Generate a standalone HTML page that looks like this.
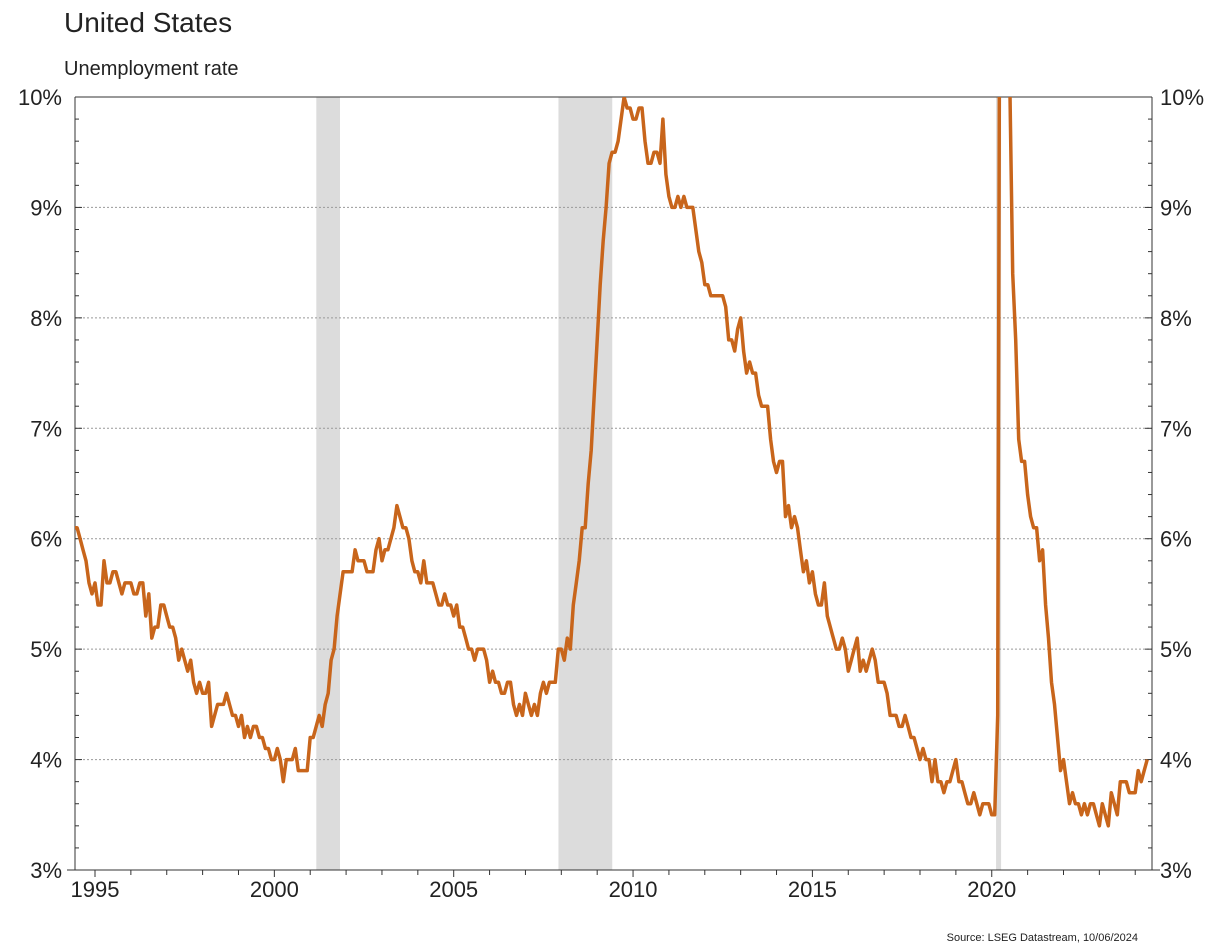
<!DOCTYPE html>
<html><head><meta charset="utf-8">
<style>
body{margin:0;background:#fff;font-family:"Liberation Sans",Arial,sans-serif;}
svg text{font-family:"Liberation Sans",Arial,sans-serif;}
</style></head>
<body>
<svg id="chart" width="1228" height="947" viewBox="0 0 1228 947" xmlns="http://www.w3.org/2000/svg">
<text x="64" y="32" font-size="28" fill="#222">United States</text>
<text x="64" y="75" font-size="20" fill="#222">Unemployment rate</text>
<g id="bands"></g>
<g id="grid"></g>
<g id="axes"></g>
<g id="series"></g>
<text x="1138" y="941" font-size="11" fill="#222" text-anchor="end">Source: LSEG Datastream, 10/06/2024</text>
</svg>
<script>
const startYear = 1994, startMonth = 5; // June 1994
const rates = [
6.1,6.1,6.0,5.9,5.8,5.6,5.5,
5.6,5.4,5.4,5.8,5.6,5.6,5.7,5.7,5.6,5.5,5.6,5.6,
5.6,5.5,5.5,5.6,5.6,5.3,5.5,5.1,5.2,5.2,5.4,5.4,
5.3,5.2,5.2,5.1,4.9,5.0,4.9,4.8,4.9,4.7,4.6,4.7,
4.6,4.6,4.7,4.3,4.4,4.5,4.5,4.5,4.6,4.5,4.4,4.4,
4.3,4.4,4.2,4.3,4.2,4.3,4.3,4.2,4.2,4.1,4.1,4.0,
4.0,4.1,4.0,3.8,4.0,4.0,4.0,4.1,3.9,3.9,3.9,3.9,
4.2,4.2,4.3,4.4,4.3,4.5,4.6,4.9,5.0,5.3,5.5,5.7,
5.7,5.7,5.7,5.9,5.8,5.8,5.8,5.7,5.7,5.7,5.9,6.0,
5.8,5.9,5.9,6.0,6.1,6.3,6.2,6.1,6.1,6.0,5.8,5.7,
5.7,5.6,5.8,5.6,5.6,5.6,5.5,5.4,5.4,5.5,5.4,5.4,
5.3,5.4,5.2,5.2,5.1,5.0,5.0,4.9,5.0,5.0,5.0,4.9,
4.7,4.8,4.7,4.7,4.6,4.6,4.7,4.7,4.5,4.4,4.5,4.4,
4.6,4.5,4.4,4.5,4.4,4.6,4.7,4.6,4.7,4.7,4.7,5.0,
5.0,4.9,5.1,5.0,5.4,5.6,5.8,6.1,6.1,6.5,6.8,7.3,
7.8,8.3,8.7,9.0,9.4,9.5,9.5,9.6,9.8,10.0,9.9,9.9,
9.8,9.8,9.9,9.9,9.6,9.4,9.4,9.5,9.5,9.4,9.8,9.3,
9.1,9.0,9.0,9.1,9.0,9.1,9.0,9.0,9.0,8.8,8.6,8.5,
8.3,8.3,8.2,8.2,8.2,8.2,8.2,8.1,7.8,7.8,7.7,7.9,
8.0,7.7,7.5,7.6,7.5,7.5,7.3,7.2,7.2,7.2,6.9,6.7,
6.6,6.7,6.7,6.2,6.3,6.1,6.2,6.1,5.9,5.7,5.8,5.6,
5.7,5.5,5.4,5.4,5.6,5.3,5.2,5.1,5.0,5.0,5.1,5.0,
4.8,4.9,5.0,5.1,4.8,4.9,4.8,4.9,5.0,4.9,4.7,4.7,
4.7,4.6,4.4,4.4,4.4,4.3,4.3,4.4,4.3,4.2,4.2,4.1,
4.0,4.1,4.0,4.0,3.8,4.0,3.8,3.8,3.7,3.8,3.8,3.9,
4.0,3.8,3.8,3.7,3.6,3.6,3.7,3.6,3.5,3.6,3.6,3.6,
3.5,3.5,4.4,14.8,13.2,11.0,10.2,8.4,7.8,6.9,6.7,6.7,
6.4,6.2,6.1,6.1,5.8,5.9,5.4,5.1,4.7,4.5,4.2,3.9,
4.0,3.8,3.6,3.7,3.6,3.6,3.5,3.6,3.5,3.6,3.6,3.5,
3.4,3.6,3.5,3.4,3.7,3.6,3.5,3.8,3.8,3.8,3.7,3.7,
3.7,3.9,3.8,3.9,4.0
];
const recessionStarts = [2001.17, 2007.92, 2020.12];
const recessionEnds = [2001.83, 2009.42, 2020.26];
const yTicks = [3,4,5,6,7,8,9,10];
const xTicks = [1995,2000,2005,2010,2015,2020];

const L=75,R=1152,T=97,B=870,yMin=3,yMax=10;
const xs=t=>95+(t-1995)*35.87;
const ys=v=>B-(v-yMin)/(yMax-yMin)*(B-T);
const NS='http://www.w3.org/2000/svg';
function mk(tag,attrs,parent){const e=document.createElementNS(NS,tag);for(const k in attrs)e.setAttribute(k,attrs[k]);document.getElementById(parent).appendChild(e);return e;}

recessionStarts.forEach((s,i)=>{
 const e=mk('rect',{x:xs(s),y:T,width:xs(recessionEnds[i])-xs(s),height:B-T,fill:'#dcdcdc'},'bands');
 
 
});
yTicks.forEach(v=>{
 if(v>yMin&&v<yMax){const g=mk('line',{x1:L,x2:R,y1:ys(v),y2:ys(v),stroke:'#999','stroke-dasharray':'2,2','stroke-width':1},'grid');
 
 }
 const t1=mk('text',{x:62,y:ys(v)+8,'font-size':22,'text-anchor':'end',fill:'#222'},'axes');t1.textContent=v+'%';
 
 
 const t2=mk('text',{x:1160,y:ys(v)+8,'font-size':22,fill:'#222'},'axes');t2.textContent=v+'%';
 
 
});
for(let v=yMin;v<=yMax+0.001;v+=0.2){
 const major=Math.abs(v-Math.round(v))<0.01, len=major?7:4;
 mk('line',{x1:L,x2:L+len,y1:ys(v),y2:ys(v),stroke:'#333'},'axes');
 mk('line',{x1:R-len,x2:R,y1:ys(v),y2:ys(v),stroke:'#333'},'axes');
}
mk('line',{x1:L,x2:L,y1:T,y2:B,stroke:'#333'},'axes');
mk('line',{x1:R,x2:R,y1:T,y2:B,stroke:'#333'},'axes');
mk('line',{x1:L,x2:R,y1:T,y2:T,stroke:'#333'},'axes');
const xaxis=mk('line',{x1:67,x2:R+8,y1:B,y2:B,stroke:'#333'},'axes');


for(let y=1995;y<=2024;y++){
 const x=xs(y);
 mk('line',{x1:x,x2:x,y1:B,y2:B+((y%5===0)?7:5),stroke:'#333'},'axes');
}
xTicks.forEach(y=>{
 const t=mk('text',{x:xs(y),y:B+27,'font-size':22,'text-anchor':'middle',fill:'#222'},'axes');t.textContent=y;
 
 
});
mk('clipPath',{id:'clip'},'series');
const cr=document.createElementNS(NS,'rect');cr.setAttribute('x',L);cr.setAttribute('y',T);cr.setAttribute('width',R-L);cr.setAttribute('height',B-T);
document.getElementById('clip').appendChild(cr);
let d='';
rates.forEach((v,i)=>{const t=startYear+(startMonth+i)/12;d+=(i?'L':'M')+xs(t).toFixed(1)+','+ys(v).toFixed(1);});
const line=mk('path',{d:d,fill:'none',stroke:'#c8651b','stroke-width':3.5,'stroke-linejoin':'round','clip-path':'url(#clip)'},'series');


</script>
</body></html>
